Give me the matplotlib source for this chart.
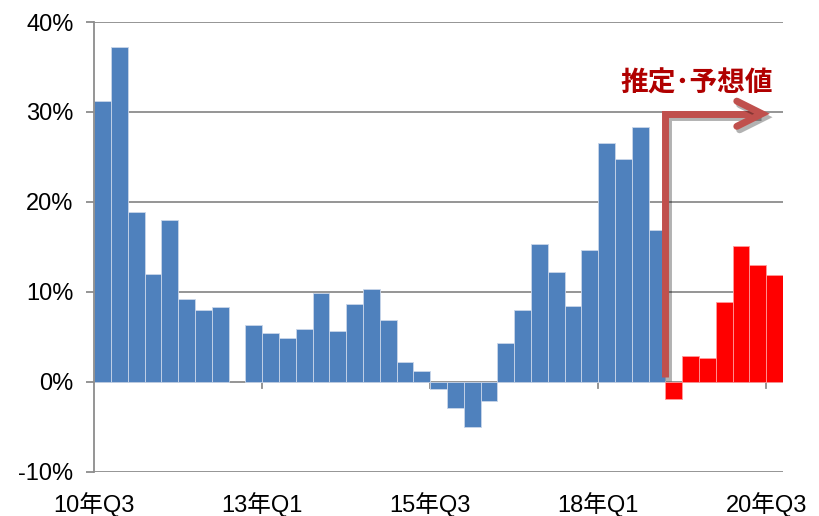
import numpy as np
import matplotlib
matplotlib.use('Agg')
import matplotlib.pyplot as plt
import matplotlib.patheffects as pe

plt.rcParams['font.family'] = ['Liberation Sans', 'Noto Sans CJK JP']

# quarterly growth, 10年Q3 .. 20年Q3 (41 quarters)
actual = [31.2, 37.2, 18.9, 12.0, 18.0, 9.2, 8.0, 8.3, np.nan, 6.3,
          5.4, 4.85, 5.9, 9.9, 5.6, 8.6, 10.3, 6.9, 2.2, 1.2,
          -0.8, -2.9, -5.0, -2.1, 4.3, 8.0, 15.3, 12.2, 8.4, 14.7,
          26.6, 24.8, 28.3, 16.9]
forecast = [-1.9, 2.9, 2.6, 8.9, 15.1, 13.0, 11.9]
tick_labels = ['10年Q3', '13年Q1', '15年Q3', '18年Q1', '20年Q3']
y_ticks = [-10, 0, 10, 20, 30, 40]

n_act = len(actual)
x_act = np.arange(n_act)
x_fc = np.arange(n_act, n_act + len(forecast))

fig = plt.figure(figsize=(8.2, 5.16), dpi=100)
ax = fig.add_axes([94.3 / 820, 44.3 / 516, (783 - 94.3) / 820, (494 - 44.3) / 516])

grid_c = '#8c8c8c'
for v in y_ticks:
    ax.axhline(v, color=grid_c, lw=1.3, zorder=1)

ax.bar(x_act, actual, width=1.0, align='edge', color='#4F81BD',
       edgecolor='#c9d6ea', linewidth=0.6, zorder=2)
ax.bar(x_fc, forecast, width=1.0, align='edge', color='#FF0000',
       edgecolor='#ff9a9a', linewidth=0.6, zorder=2)

ax.set_xlim(0, n_act + len(forecast))
ax.set_ylim(-10, 40)

for s in ['top', 'right', 'bottom']:
    ax.spines[s].set_visible(False)
ax.spines['left'].set_color(grid_c)
ax.spines['left'].set_linewidth(1.3)

ax.set_yticks(y_ticks)
ax.set_yticklabels([f'{v}%' for v in y_ticks], fontsize=17)
ax.tick_params(axis='y', length=6, width=1.3, color=grid_c, pad=9)

ax.set_xticks([0, 10, 20, 30, 40])
ax.set_xticklabels(tick_labels, fontsize=17)
ax.tick_params(axis='x', length=0, pad=15)
# small ticks hanging under the zero line
for t in [10, 20, 30, 40]:
    ax.plot([t, t], [0, -0.7], color=grid_c, lw=1.3, zorder=1)

# estimate / forecast marker
shadow = [pe.SimpleLineShadow(offset=(2, -2.5), alpha=0.3), pe.Normal()]
arrow_c = '#C0504D'
ax.plot([34.0, 34.0, 39.5], [0.5, 29.8, 29.8], color=arrow_c, lw=5,
        solid_joinstyle='miter', solid_capstyle='butt', zorder=4,
        path_effects=shadow)
ax.plot([38.25, 39.75, 38.25], [31.2, 29.8, 28.4], color=arrow_c, lw=5,
        solid_joinstyle='miter', solid_capstyle='round', zorder=4,
        path_effects=shadow)
ax.text(40.4, 33.2, '推定･予想値', color='#B00000', fontsize=20,
        fontweight='bold', ha='right', va='center',
        family=['Noto Sans CJK JP', 'DejaVu Sans'])

fig.savefig('out.png', dpi=100)
